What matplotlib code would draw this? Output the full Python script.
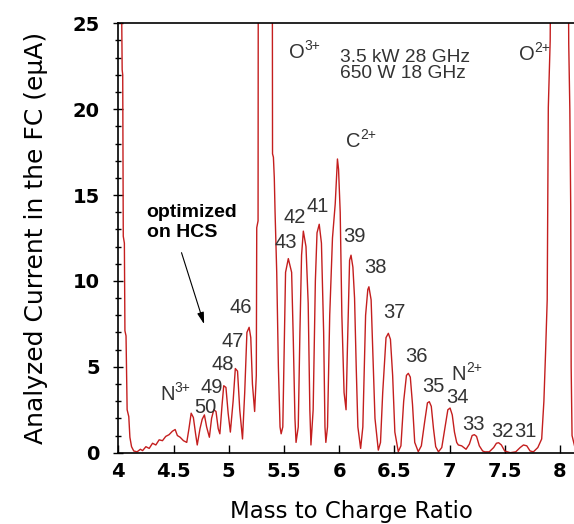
import matplotlib
matplotlib.use('Agg')
import matplotlib.pyplot as plt
from matplotlib.ticker import MultipleLocator, FormatStrFormatter

plt.rcParams['font.family'] = ['DejaVu Sans']

# spectrum (values above 25 are off scale)
mass_to_charge = [
    4.000, 4.030, 4.035, 4.040, 4.045, 4.055, 4.060, 4.070, 4.080, 4.095,
    4.105, 4.120, 4.140, 4.170, 4.200, 4.220, 4.250, 4.280, 4.310, 4.340,
    4.370, 4.400, 4.430, 4.460, 4.490, 4.515, 4.535, 4.560, 4.590, 4.620,
    4.640, 4.660, 4.680, 4.700, 4.715, 4.740, 4.760, 4.780, 4.800, 4.825,
    4.845, 4.865, 4.885, 4.905, 4.920, 4.940, 4.955, 4.975, 4.995, 5.015,
    5.040, 5.060, 5.080, 5.100, 5.125, 5.145, 5.165, 5.185, 5.200, 5.215,
    5.235, 5.250, 5.254, 5.266, 5.268, 5.395, 5.397, 5.405, 5.413, 5.420,
    5.435, 5.450, 5.465, 5.475, 5.490, 5.505, 5.515, 5.540, 5.570, 5.585,
    5.600, 5.610, 5.630, 5.645, 5.660, 5.676, 5.700, 5.720, 5.735, 5.745,
    5.765, 5.785, 5.800, 5.820, 5.840, 5.860, 5.872, 5.880, 5.895, 5.915,
    5.940, 5.965, 5.985, 5.995, 6.010, 6.025, 6.045, 6.063, 6.075, 6.095,
    6.108, 6.125, 6.140, 6.155, 6.170, 6.195, 6.215, 6.240, 6.260, 6.270,
    6.290, 6.305, 6.325, 6.355, 6.375, 6.395, 6.425, 6.446, 6.465, 6.485,
    6.505, 6.536, 6.560, 6.585, 6.610, 6.627, 6.645, 6.665, 6.685, 6.717,
    6.745, 6.775, 6.800, 6.817, 6.835, 6.855, 6.875, 6.900, 6.930, 6.960,
    6.985, 7.005, 7.025, 7.045, 7.065, 7.080, 7.110, 7.150, 7.180, 7.205,
    7.225, 7.245, 7.270, 7.300, 7.320, 7.360, 7.400, 7.425, 7.445, 7.470,
    7.500, 7.550, 7.600, 7.640, 7.670, 7.700, 7.730, 7.760, 7.800, 7.835,
    7.855, 7.870, 7.885, 7.895, 7.912, 7.918, 8.075, 8.080, 8.090, 8.098,
    8.102, 8.110, 8.140, 8.200]
current = [
    30.0, 26.0, 22.3, 22.0, 12.6, 12.2, 7.1, 6.8, 2.5, 2.1,
    0.9, 0.35, 0.10, 0.05, 0.20, 0.12, 0.35, 0.25, 0.55, 0.45,
    0.75, 0.70, 0.95, 1.05, 1.25, 1.35, 1.00, 0.90, 0.70, 0.60,
    1.40, 2.30, 2.05, 1.10, 0.45, 1.40, 1.95, 2.20, 1.50, 0.90,
    2.00, 2.50, 2.40, 1.40, 1.10, 2.80, 3.90, 3.80, 2.30, 1.20,
    3.00, 4.90, 4.75, 2.50, 0.80, 3.50, 7.00, 7.30, 6.70, 4.00,
    2.40, 4.50, 13.1, 13.5, 30.0, 30.0, 17.4, 17.2, 16.0, 14.0,
    10.5, 5.0, 1.5, 1.1, 1.5, 7.0, 10.5, 11.3, 10.5, 6.6,
    2.0, 0.6, 1.5, 7.0, 11.5, 12.9, 12.0, 8.7, 2.5, 0.45,
    2.5, 10.0, 12.8, 13.3, 12.2, 7.0, 1.5, 0.6, 1.5, 8.0,
    12.5, 14.5, 17.1, 16.5, 14.0, 8.0, 3.5, 2.5, 6.0, 11.2,
    11.5, 10.8, 9.0, 5.0, 1.5, 0.25, 1.5, 8.0, 9.5, 9.66,
    8.9, 6.0, 2.0, 0.15, 0.6, 3.5, 6.7, 6.95, 6.6, 4.5,
    1.2, 0.06, 0.4, 3.0, 4.5, 4.62, 4.4, 2.8, 0.6, 0.06,
    0.4, 1.8, 2.9, 2.97, 2.7, 1.4, 0.35, 0.05, 0.3, 1.5,
    2.5, 2.6, 2.2, 1.2, 0.6, 0.45, 0.40, 0.20, 0.50, 1.00,
    1.05, 0.95, 0.40, 0.10, 0.05, 0.05, 0.30, 0.55, 0.58, 0.45,
    0.10, 0.00, 0.05, 0.30, 0.45, 0.40, 0.10, 0.05, 0.30, 0.8,
    3.0, 5.8, 8.9, 20.1, 24.0, 30.0, 30.0, 23.8, 20.0, 14.3,
    5.0, 1.0, 0.2, 0.1]

charge_labels = ['50', '49', '48', '47', '46', '43', '42', '41', '39', '38',
                 '37', '36', '35', '34', '33', '32', '31']
label_x = [4.79, 4.85, 4.95, 5.04, 5.113, 5.52, 5.60, 5.81, 6.135, 6.33,
           6.50, 6.70, 6.85, 7.07, 7.22, 7.48, 7.69]
label_y = [2.31, 3.48, 4.81, 6.15, 8.13, 11.92, 13.37, 14.0, 12.26, 10.46,
           7.84, 5.28, 3.53, 2.89, 1.32, 0.92, 0.92]

ion_names = ['N', 'O', 'C', 'N', 'O']
ion_charges = ['3+', '3+', '2+', '2+', '2+']
ion_x = [4.38, 5.549, 6.06, 7.02, 7.63]
ion_y = [3.07, 22.96, 17.8, 4.23, 22.86]

fig = plt.figure(figsize=(5.74, 5.24), dpi=100)
ax = fig.add_axes([118.3 / 574, 71.3 / 524, (8.2 - 4) * 110.4 / 574, 429.4 / 524])

ax.plot(mass_to_charge, current, color='#c41e1e', lw=1.0)

ax.set_xlim(4, 8.2)
ax.set_ylim(0, 25)
ax.xaxis.set_major_locator(MultipleLocator(0.5))
ax.xaxis.set_major_formatter(FormatStrFormatter('%g'))
ax.yaxis.set_major_locator(MultipleLocator(5))
ax.yaxis.set_minor_locator(MultipleLocator(1))
ax.tick_params(axis='x', direction='in', length=5.8, width=1, pad=7,
               labelsize=14)
ax.tick_params(axis='y', which='major', direction='inout', length=7.5, width=1,
               pad=9.5, labelsize=14)
ax.tick_params(axis='y', which='minor', direction='inout', length=5, width=1)
for lab in ax.get_xticklabels() + ax.get_yticklabels():
    lab.set_fontweight('bold')
for s in ['left', 'bottom', 'top']:
    ax.spines[s].set_linewidth(1.2)
ax.spines['right'].set_visible(False)

ax.set_xlabel('Mass to Charge Ratio', fontsize=16.5, va='top')
ax.xaxis.set_label_coords((351.7 - 118.3) / (4.2 * 110.4), -0.110)
ax.set_ylabel('Analyzed Current in the FC (eμA)', fontsize=18, va='center')
ax.yaxis.set_label_coords((36 - 118.3) / (4.2 * 110.4), 0.5)

ann = dict(family='Liberation Sans', fontsize=14.5, color='#333333')
for t, x, y in zip(charge_labels, label_x, label_y):
    ax.text(x, y, t, ha='center', va='baseline', **ann)
for name, q, x, y in zip(ion_names, ion_charges, ion_x, ion_y):
    base = ax.text(x, y, name, ha='left', va='baseline', **ann)
    ax.annotate(q, xy=(1.0, 0.64), xycoords=base, xytext=(-0.3, 0),
                textcoords='offset points', ha='left', va='baseline',
                family='Liberation Sans', fontsize=10, color='#333333')
ax.text(6.008, 21.79, '3.5 kW 28 GHz\n650 W 18 GHz', ha='left', va='baseline',
        family='Liberation Sans', fontsize=13.8, color='#333333',
        linespacing=0.95)

ax.text(4.257, 12.54, 'optimized\non HCS', family='Liberation Sans',
        fontweight='bold', fontsize=14, ha='left', va='baseline',
        linespacing=1.25)
ax.annotate('', xy=(4.785, 7.33), xytext=(4.565, 11.8),
            arrowprops=dict(arrowstyle='-|>,head_length=0.7,head_width=0.2',
                            color='black', lw=0.8))

fig.savefig('out.png', dpi=100)
